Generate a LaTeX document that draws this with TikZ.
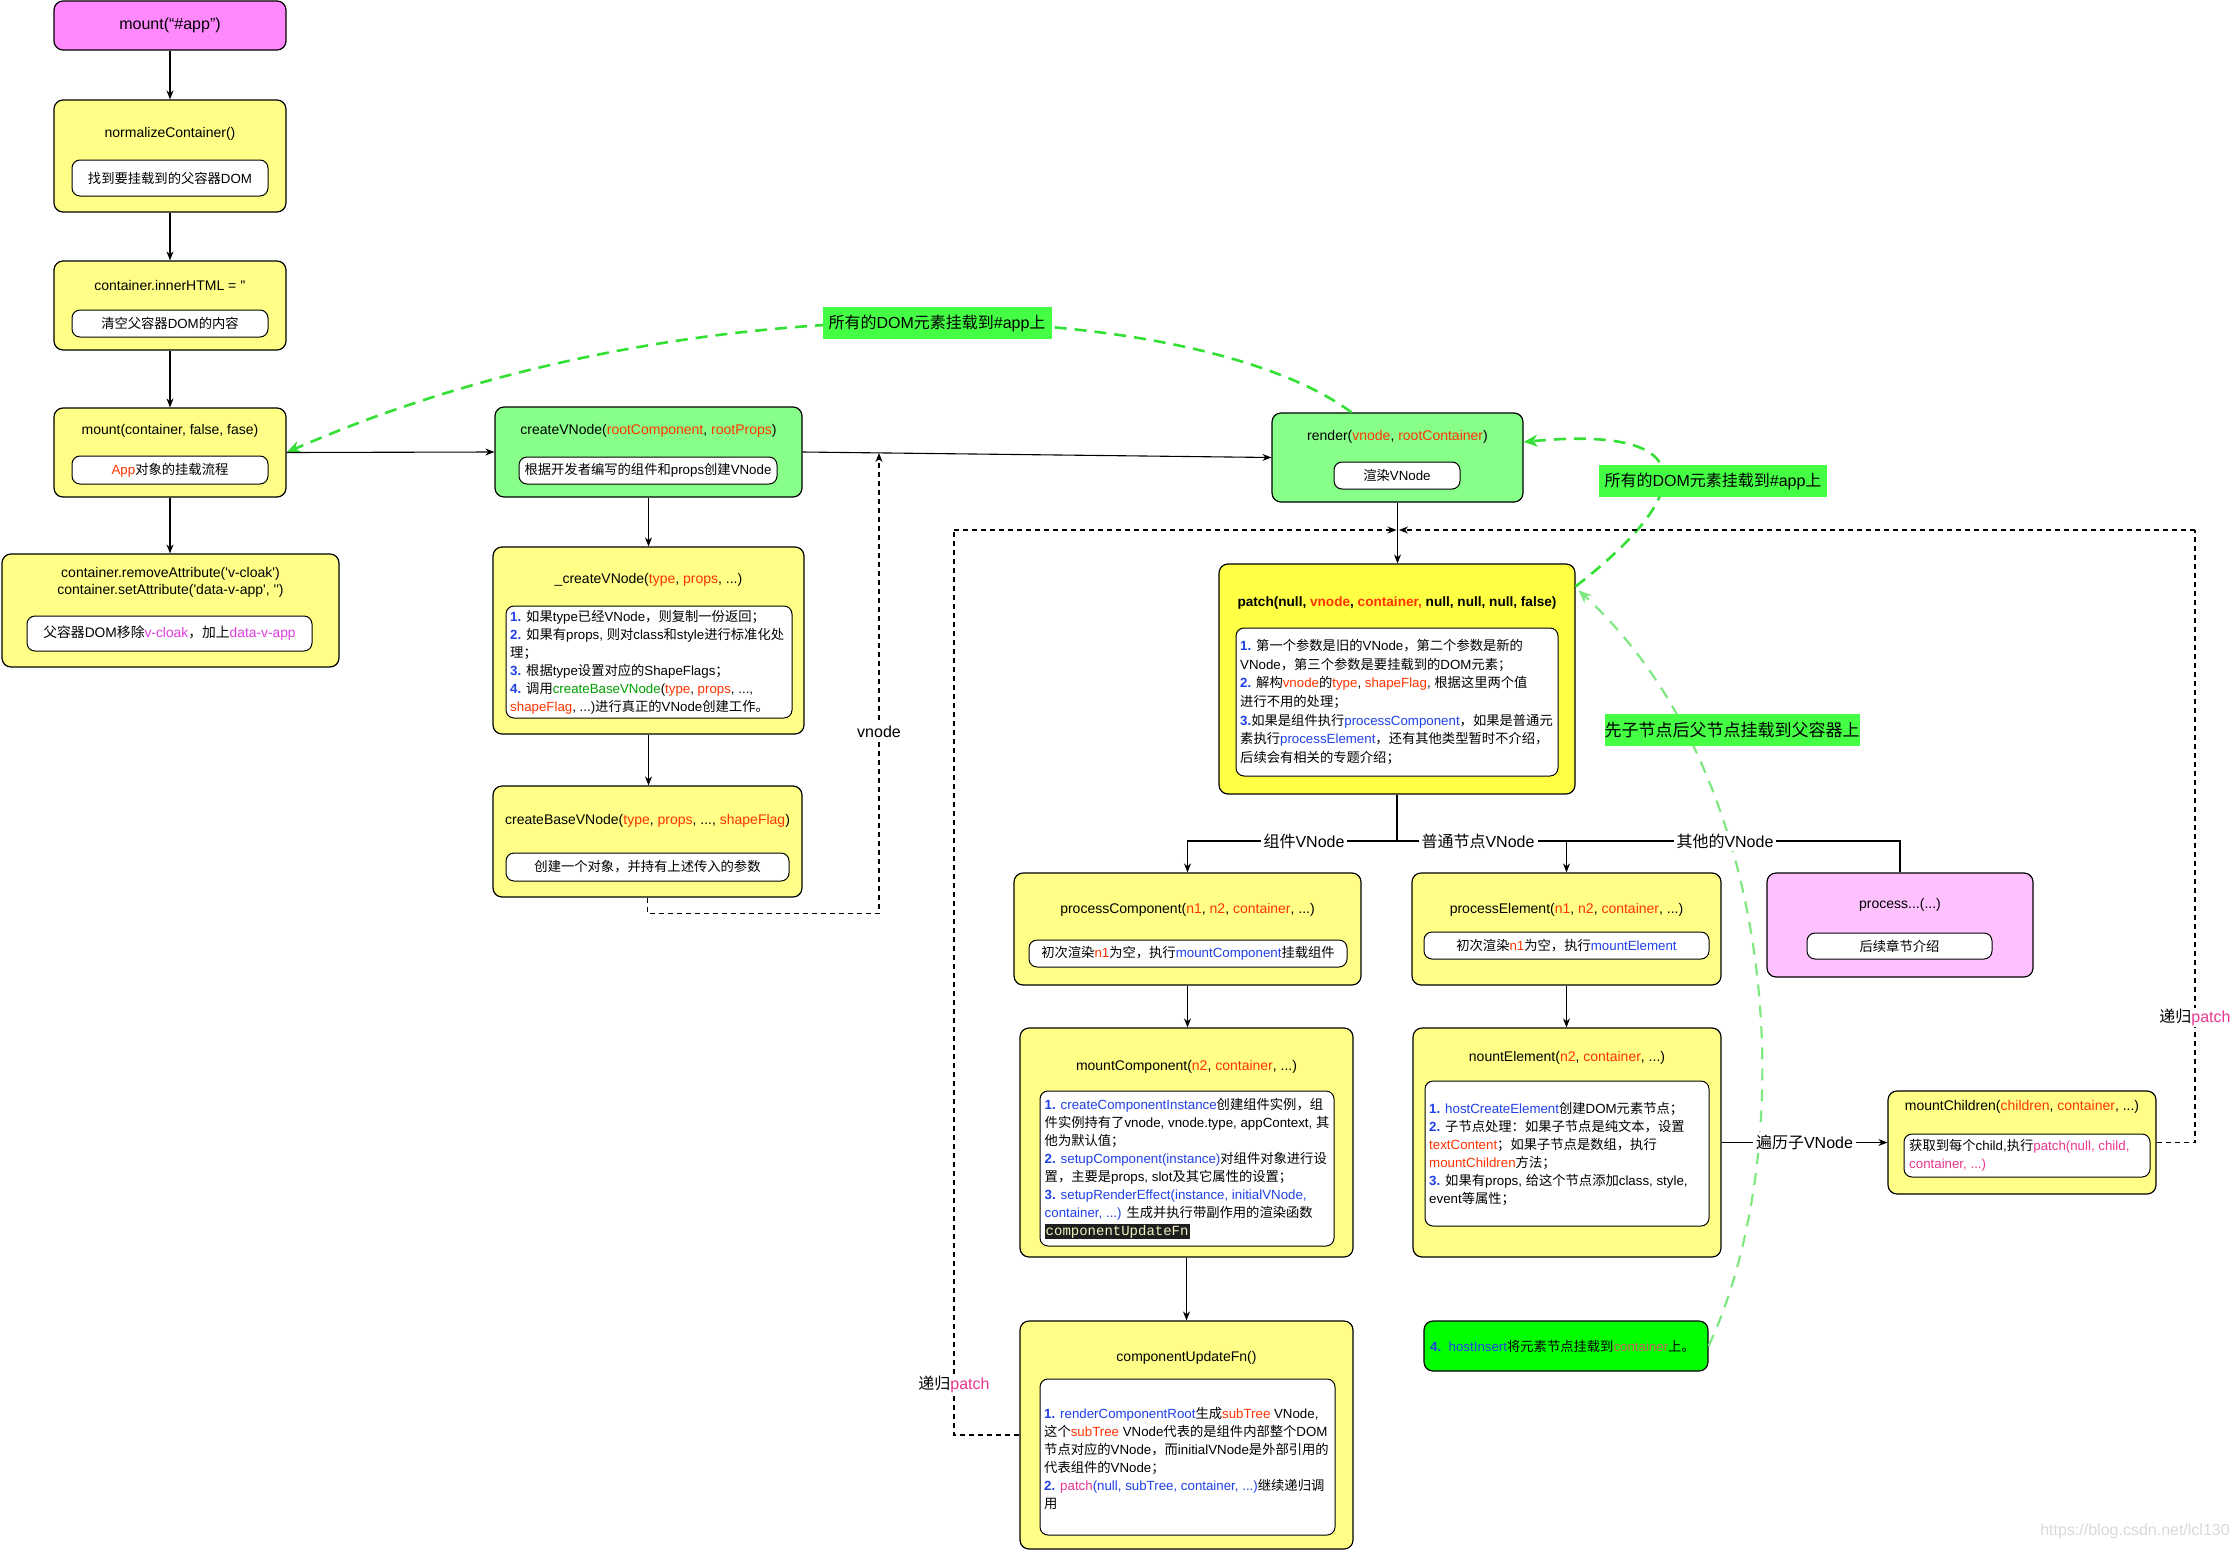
\documentclass[tikz,border=0pt]{standalone}
\usepackage{fontspec}
\usetikzlibrary{arrows.meta,calc}
\setmainfont{Liberation Sans}
\setmonofont{Liberation Mono}
\newfontfamily\latinfont{Liberation Sans}
\newfontfamily\cjkfont{Noto Sans CJK SC}
\newXeTeXintercharclass\CJKcls
\newcount\cjkcnt
\newcommand\setcjkrange[2]{\cjkcnt=#1\relax
  \loop\XeTeXcharclass\cjkcnt=\CJKcls
  \ifnum\cjkcnt<#2\relax\advance\cjkcnt by 1\repeat}
\setcjkrange{"3000}{"303F}
\setcjkrange{"4E00}{"9FFF}
\setcjkrange{"FF00}{"FFEF}
\XeTeXinterchartoks 0 \CJKcls={\cjkfont}
\XeTeXinterchartoks 4095 \CJKcls={\cjkfont}
\XeTeXinterchartoks \CJKcls 0={\latinfont}
\XeTeXinterchartoks \CJKcls 4095={\latinfont}
\XeTeXinterchartokenstate=1

\definecolor{cred}{HTML}{FF3300}
\definecolor{cblue}{HTML}{2040E8}
\definecolor{cgrn}{HTML}{00A000}
\definecolor{cmagenta}{HTML}{E03CE0}
\definecolor{cpink}{HTML}{E8368F}
\definecolor{cmuted}{HTML}{C86060}
\definecolor{fyel}{HTML}{FFFF88}
\definecolor{fpatch}{HTML}{FFFF44}
\definecolor{fgrn}{HTML}{88FF88}
\definecolor{fmag}{HTML}{FF88FF}
\definecolor{fpink}{HTML}{FFC0FF}
\definecolor{fbright}{HTML}{00FF00}
\definecolor{flab}{HTML}{44FF44}
\definecolor{lgreen}{HTML}{33E033}
\definecolor{llgreen}{HTML}{80E880}
\definecolor{monobg}{HTML}{1E1E1E}
\definecolor{monofg}{HTML}{F0F0C0}

\newcommand\cR[1]{\textcolor{cred}{#1}}
\newcommand\cB[1]{\textcolor{cblue}{#1}}
\newcommand\nB[1]{\textcolor{cblue}{\textbf{#1}}}
\newcommand\cG[1]{\textcolor{cgrn}{#1}}
\newcommand\cM[1]{\textcolor{cmagenta}{#1}}
\newcommand\cP[1]{\textcolor{cpink}{#1}}
\newcommand\fT{\fontsize{14}{17}\selectfont}
\newcommand\fS{\fontsize{13.3}{18}\selectfont}
\newcommand\fL{\fontsize{16}{19}\selectfont}

\begin{document}
\begin{tikzpicture}[x=1pt,y=-1pt,
  ybox/.style={draw, line width=1.2pt, rounded corners=9pt, fill=fyel, inner sep=0pt},
  inbx/.style={draw, fill=white, line width=1pt, rounded corners=8pt, inner sep=0pt, font=\fS},
  ttl/.style={font=\fT, inner sep=0pt},
  lst/.style={font=\fS, align=left, anchor=west, inner sep=0pt},
  arr/.style={line width=1.1pt, -{Stealth[length=9pt,width=7pt]}},
  pln/.style={line width=1.1pt},
  dln/.style={line width=1.1pt, dash pattern=on 5pt off 4pt, -{Stealth[length=9pt,width=7pt]}},
  dpl/.style={line width=1.1pt, dash pattern=on 5pt off 4pt},
  gln/.style={draw=lgreen, line width=2.6pt, dash pattern=on 12pt off 8pt, -{Stealth[length=14pt,width=12pt]}},
  lgln/.style={draw=llgreen, line width=2.2pt, dash pattern=on 12pt off 9pt, -{Stealth[length=13pt,width=11pt]}},
  elab/.style={fill=white, font=\fL, inner sep=3pt},
  glab/.style={fill=flab, font=\fL, inner sep=0pt, minimum height=32pt}]
\useasboundingbox (0,0) rectangle (2238,1550);

% ---------------- column 1
\node[ybox, fill=fmag, minimum width=232pt, minimum height=49pt, font=\fL] (mapp) at (170,25.5) {mount(“\#app”)};
\node[ybox, minimum width=232pt, minimum height=112pt] (norm) at (170,156) {};
\node[ttl] (normT) at (170,134) {normalizeContainer()};
\node[inbx, minimum width=196pt, minimum height=36pt] (normI) at (170,178) {找到要挂载到的父容器DOM};
\node[ybox, minimum width=232pt, minimum height=89pt] (inner) at (170,305.5) {};
\node[ttl] (innerT) at (170,285) {container.innerHTML = \textquotesingle\textquotesingle};
\node[inbx, minimum width=196pt, minimum height=27pt] (innerI) at (170,323.5) {清空父容器DOM的内容};
\node[ybox, minimum width=232pt, minimum height=89pt] (mountc) at (170,452.5) {};
\node[ttl] (mountcT) at (170,431) {mount(container, false, fase)};
\node[inbx, minimum width=196pt, minimum height=28pt] (mountcI) at (170,470) {\cR{App}对象的挂载流程};
\node[ybox, minimum width=337pt, minimum height=113pt] (remove) at (170.5,610.5) {};
\node[ttl, align=center] (removeT) at (170.5,582.5) {container.removeAttribute(\textquotesingle v-cloak\textquotesingle)\\container.setAttribute(\textquotesingle data-v-app\textquotesingle, \textquotesingle\textquotesingle)};
\node[inbx, minimum width=285pt, minimum height=35pt, font=\fontsize{13.8}{17}\selectfont] (removeI) at (169.5,633.5) {父容器DOM移除\cM{v-cloak}，加上\cM{data-v-app}};

% ---------------- column 2
\node[ybox, fill=fgrn, minimum width=307pt, minimum height=90pt] (cv) at (648.5,452) {};
\node[ttl] (cvT) at (648.5,431) {createVNode(\cR{rootComponent}, \cR{rootProps})};
\node[inbx, minimum width=258pt, minimum height=27pt] (cvI) at (648,470.5) {根据开发者编写的组件和props创建VNode};
\node[ybox, minimum width=311pt, minimum height=187pt] (cvu) at (648.5,640.5) {};
\node[ttl] (cvuT) at (648.5,580) {\_createVNode(\cR{type}, \cR{props}, ...)};
\node[inbx, minimum width=286pt, minimum height=112pt] (cvuI) at (649,662) {};
\node[lst] (cvuL) at (510,662) {\nB{1.} 如果type已经VNode，则复制一份返回；\\
\nB{2.} 如果有props, 则对class和style进行标准化处\\
理；\\
\nB{3.} 根据type设置对应的ShapeFlags；\\
\nB{4.} 调用\cG{createBaseVNode}(\cR{type}, \cR{props}, ...,\\
\cR{shapeFlag}, ...)进行真正的VNode创建工作。};
\node[ybox, minimum width=309pt, minimum height=111pt] (cbv) at (647.5,841.5) {};
\node[ttl] (cbvT) at (647.5,821) {createBaseVNode(\cR{type}, \cR{props}, ..., \cR{shapeFlag})};
\node[inbx, minimum width=283pt, minimum height=28pt] (cbvI) at (647.5,867) {创建一个对象，并持有上述传入的参数};

% ---------------- render / patch
\node[ybox, fill=fgrn, minimum width=251pt, minimum height=89pt] (render) at (1397.5,457.5) {};
\node[ttl] (renderT) at (1397.5,437) {render(\cR{vnode}, \cR{rootContainer})};
\node[inbx, minimum width=126pt, minimum height=27pt] (renderI) at (1397,475.5) {渲染VNode};
\node[ybox, fill=fpatch, minimum width=356pt, minimum height=230pt] (patch) at (1397,679) {};
\node[ttl, font=\bfseries\fontsize{13.6}{17}\selectfont] (patchT) at (1397,603) {patch(null, \cR{vnode}, \cR{container,} null, null, null, false)};
\node[inbx, minimum width=322pt, minimum height=148pt] (patchI) at (1397,702) {};
\node[lst, font=\fontsize{13.3}{18.6}\selectfont] (patchL) at (1240,702) {\nB{1.} 第一个参数是旧的VNode，第二个参数是新的\\
VNode，第三个参数是要挂载到的DOM元素；\\
\nB{2.} 解构\cR{vnode}的\cR{type}, \cR{shapeFlag}, 根据这里两个值\\
进行不用的处理；\\
\nB{3.}如果是组件执行\cB{processComponent}，如果是普通元\\
素执行\cB{processElement}，还有其他类型暂时不介绍，\\
后续会有相关的专题介绍；};

% ---------------- process level
\node[ybox, minimum width=347pt, minimum height=112pt] (pcomp) at (1187.5,929) {};
\node[ttl] (pcompT) at (1187.5,910) {processComponent(\cR{n1}, \cR{n2}, \cR{container}, ...)};
\node[inbx, minimum width=318pt, minimum height=27pt] (pcompI) at (1188,953.5) {初次渲染\cR{n1}为空，执行\cB{mountComponent}挂载组件};
\node[ybox, minimum width=309pt, minimum height=112pt] (pelem) at (1566.5,929) {};
\node[ttl] (pelemT) at (1566.5,910) {processElement(\cR{n1}, \cR{n2}, \cR{container}, ...)};
\node[inbx, minimum width=285pt, minimum height=27pt] (pelemI) at (1566.5,945.5) {初次渲染\cR{n1}为空，执行\cB{mountElement}};
\node[ybox, fill=fpink, minimum width=266pt, minimum height=104pt] (pother) at (1900,925) {};
\node[ttl] (potherT) at (1900,905) {process...(...)};
\node[inbx, minimum width=185pt, minimum height=26pt] (potherI) at (1899.5,946) {后续章节介绍};

% ---------------- mount level
\node[ybox, minimum width=333pt, minimum height=229pt] (mcomp) at (1186.5,1142.5) {};
\node[ttl] (mcompT) at (1186.5,1067) {mountComponent(\cR{n2}, \cR{container}, ...)};
\node[inbx, minimum width=294pt, minimum height=155pt] (mcompI) at (1187,1168.5) {};
\node[lst] (mcompL) at (1044.5,1168.5) {\nB{1.} \cB{createComponentInstance}创建组件实例，组\\
件实例持有了vnode, vnode.type, appContext, 其\\
他为默认值；\\
\nB{2.} \cB{setupComponent(instance)}对组件对象进行设\\
置，主要是props, slot及其它属性的设置；\\
\nB{3.} \cB{setupRenderEffect(instance, initialVNode,}\\
\cB{container, ...)} 生成并执行带副作用的渲染函数\\
{\setlength\fboxsep{1pt}\colorbox{monobg}{\textcolor{monofg}{\ttfamily\fontsize{14}{14}\selectfont componentUpdateFn}}}};

\node[ybox, minimum width=308pt, minimum height=229pt] (nelem) at (1567,1142.5) {};
\node[ttl] (nelemT) at (1567,1058) {nountElement(\cR{n2}, \cR{container}, ...)};
\node[inbx, minimum width=284pt, minimum height=145pt] (nelemI) at (1567,1153.5) {};
\node[lst] (nelemL) at (1429,1153.5) {\nB{1.} \cB{hostCreateElement}创建DOM元素节点；\\
\nB{2.} 子节点处理：如果子节点是纯文本，设置\\
\cR{textContent}；如果子节点是数组，执行\\
\cR{mountChildren}方法；\\
\nB{3.} 如果有props, 给这个节点添加class, style,\\
event等属性；};

\node[ybox, minimum width=268pt, minimum height=103pt] (mch) at (2022,1142.5) {};
\node[ttl] (mchT) at (2022,1107) {mountChildren(\cR{children}, \cR{container}, ...)};
\node[inbx, minimum width=246pt, minimum height=43pt] (mchI) at (2027,1155.5) {};
\node[lst] (mchL) at (1909,1155.5) {获取到每个child,执行\cP{patch(null, child,}\\
\cP{container, ...)}};

\node[ybox, minimum width=333pt, minimum height=228pt] (cuf) at (1186.5,1435) {};
\node[ttl] (cufT) at (1186.5,1358) {componentUpdateFn()};
\node[inbx, minimum width=295pt, minimum height=156pt] (cufI) at (1187.5,1457) {};
\node[lst] (cufL) at (1044,1458) {\nB{1.} \cB{renderComponentRoot}生成\cR{subTree} VNode,\\
这个\cR{subTree} VNode代表的是组件内部整个DOM\\
节点对应的VNode，而initialVNode是外部引用的\\
代表组件的VNode；\\
\nB{2.} \cP{patch}\cB{(null, subTree, container, ...)}继续递归调\\
用};

\node[ybox, fill=fbright, minimum width=284pt, minimum height=50pt] (host) at (1566,1346) {};
\node[lst] (hostT) at (1430,1346) {\nB{4.}\ \ \cB{hostInsert}将元素节点挂载到\textcolor{cmuted}{container}上。};

% ---------------- green curves
\draw[gln] ($(render.north)+(-46,0)$) .. controls (1200,300) and (700,271) .. (mountc.east);
\draw[gln] ($(patch.north east)+(0,23)$) .. controls (1700,490) and (1700,425) .. ($(render.east)+(0,-15.5)$);
\draw[lgln] (host.east) .. controls (1800,1150) and (1785,780) .. ($(patch.north east)+(3,27)$);
\node[glab, minimum width=229pt] (gA) at (937,323) {所有的DOM元素挂载到\#app上};
\node[glab, minimum width=228pt] (gB) at (1713,481) {所有的DOM元素挂载到\#app上};
\node[glab, minimum width=250pt, font=\fontsize{17}{20}\selectfont] (gC) at (1732,730) {先子节点后父节点挂载到父容器上};

% ---------------- black connectors
\draw[arr] (mapp) -- (norm);
\draw[arr] (norm) -- (inner);
\draw[arr] (inner) -- (mountc);
\draw[arr] (mountc.south) -- (mountc.south |- remove.north);
\draw[arr] (mountc.east) -- (cv.west);
\draw[arr] (cv.east) -- (render.west);
\draw[arr] (cv.south) -- (cvu.north);
\draw[arr] (cvu.south) -- (cvu.south |- cbv.north);
\coordinate (vtip) at (879,453);
\draw[dln] (cbv.south) -- ++(0,16) -| node[elab, pos=0.697] (vlab) {vnode} (vtip);
\draw[arr] (render.south) -- (render.south |- patch.north);

\coordinate (lc) at (954,530);
\coordinate (jL) at (1396.5,530);
\coordinate (rc) at (2195,530);
\coordinate (jR) at (1399,530);
\draw[dpl] (cuf.west) -| node[elab, pos=0.528, inner sep=1pt] (rlabL) {递归\cP{patch}} (lc);
\draw[dln] (lc) -- (jL);
\draw[dpl] (mch.east) -| node[elab, pos=0.602, inner sep=1pt] (rlabR) {递归\cP{patch}} (rc);
\draw[dln] (rc) -- (jR);

\coordinate (br) at (1397,841);
\draw[pln] (patch.south) -- (br);
\draw[pln] (br) -| node[elab, pos=0.326] (l3) {其他的VNode} (pother.north);
\draw[arr] (br) -| node[elab, pos=0.239] (l2) {普通节点VNode} (pelem.north);
\draw[arr] (br) -| node[elab, pos=0.222] (l1) {组件VNode} (pcomp.north);

\draw[arr] (pcomp.south) -- (pcomp.south |- mcomp.north);
\draw[arr] (mcomp.south) -- (mcomp.south |- cuf.north);
\draw[arr] (pelem.south) -- (pelem.south |- nelem.north);
\draw[arr] (nelem.east) -- node[elab] (l4) {遍历子VNode} (mch.west);

\node[text=black!15, font=\fL] (wm) at (2135,1531) {https://blog.csdn.net/lcl130};
\end{tikzpicture}
\end{document}
